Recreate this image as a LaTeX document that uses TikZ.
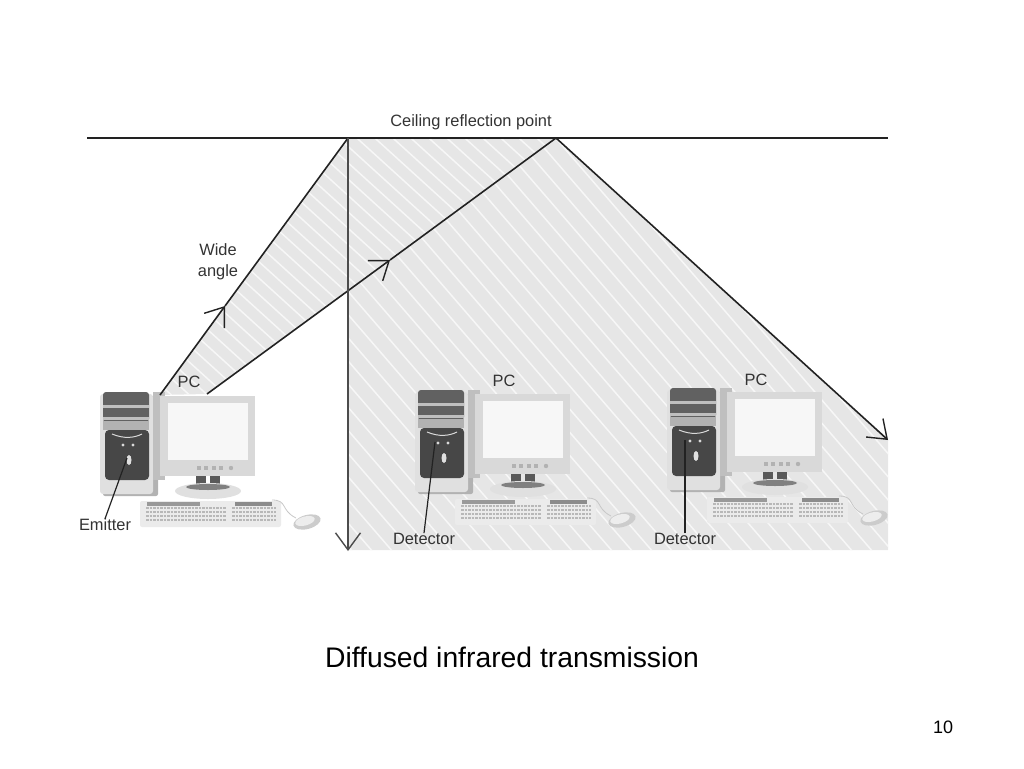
\documentclass[tikz,border=0pt]{standalone}
\usepackage{fontspec}
\setmainfont{Liberation Sans}
\usetikzlibrary{arrows.meta,positioning,calc}
\definecolor{hatchgray}{HTML}{E6E6E6}
\definecolor{hatchline}{HTML}{F7F7F7}
\definecolor{linkgray}{HTML}{222222}
\tikzset{
  ray/.style={line width=1.6pt,linkgray},
  barb/.style={-{Straight Barb[length=17pt,width=25pt,line width=1.4pt]}},
  hatchwhite/.style={hatchline,line width=1.5pt},
  lbl/.style={font=\fontsize{16.4}{19}\selectfont,text=black!80,inner sep=0pt},
  pointer/.style={line width=1.2pt,linkgray},
  pics/desktop/.style={code={
    % tower
    \fill[black!30,rounded corners=2pt] (3,4) rectangle (58,104);
    \fill[black!12,rounded corners=3pt] (0,2) rectangle (53,102);
    \fill[black!62,rounded corners=3pt] (3,0) rectangle (49,30);
    \fill[black!25] (3,13) rectangle (49,16);
    \fill[black!25] (3,25) rectangle (49,28);
    \fill[black!30] (3,29) rectangle (49,38);
    \fill[black!72,rounded corners=4pt] (5,38) rectangle (49,88);
    \draw[white!85!black,line width=1pt] (12,42) .. controls (24,47) and (34,46) .. (42,42);
    \fill[black!15] (23,53) circle (1.6) (33,53) circle (1.6);
    \fill[black!12] (29,68) ellipse (2.5 and 5);
    % monitor
    \fill[black!25] (53,0) rectangle (65,88);
    \fill[black!15] (60,4) rectangle (155,84);
    \fill[black!3] (68,11) rectangle (148,68);
    \foreach \k in {-4,2,8,14} \fill[black!30] ({102+\k*1.2},74) rectangle ++(4,4);
    \fill[black!30] (131,76) circle (2.2);
    % stand
    \fill[black!65] (96,84) rectangle (106,98);
    \fill[black!65] (110,84) rectangle (120,98);
    \fill[black!12] (108,99) ellipse (33 and 8);
    \fill[black!50] (108,95) ellipse (22 and 3);
    % keyboard
    \fill[black!8,rounded corners=2pt] (40,109) rectangle (181,135);
    \fill[black!40] (47,110) rectangle (100,114);
    \fill[black!45] (135,110) rectangle (172,114);
    \foreach \r in {116,120,124,128}{
      \draw[black!28,line width=1.3pt,dash pattern=on 2.5pt off 1pt] (46,\r) -- (126,\r);
      \draw[black!28,line width=1.3pt,dash pattern=on 2.5pt off 1pt] (132,\r) -- (176,\r);
    }
    % mouse
    \draw[black!22,line width=0.8pt] (172,108) .. controls (188,108) and (180,118) .. (196,126);
    \fill[black!20,rotate around={15:(207,130)}] (207,130) ellipse (14 and 7);
    \fill[black!7,rotate around={15:(205,129)}] (205,129) ellipse (10 and 4.5);
  }}
}
\begin{document}
\begin{tikzpicture}[x=1pt,y=-1pt,>=Latex]
  \useasboundingbox (0,0) rectangle (1024,768);
  % Ends of the rays
  \coordinate (ceilL) at (87,138);
  \coordinate (ceilR) at (888,138);
  \coordinate (reflA) at (348,138);
  \coordinate (reflB) at (556,138);
  \coordinate (emitA) at (160,395);
  \coordinate (emitB) at (207,394);
  \coordinate (headA) at (225,306);
  \coordinate (headB) at (390,260);
  \coordinate (floorPt) at (348,551);
  \coordinate (wallPt) at (888,440);
  % Hatched areas
  \begin{scope}
    \clip (reflA) -- (reflB) -- (emitB) -- (emitA) -- cycle;
    \fill[hatchgray] (100,130) rectangle (600,400);
    \foreach \i in {-300,-282,...,600}
      \draw[hatchwhite] (\i,130) -- ({\i+330},430);
  \end{scope}
  \begin{scope}
    \clip (348,291) -- (reflB) -- (wallPt) -- (888,550) -- (348,550) -- cycle;
    \fill[hatchgray] (340,130) rectangle (890,560);
    \foreach \i in {340,360,...,1360}
      \draw[hatchwhite] (\i,560) -- ({\i-380},120);
  \end{scope}
  % Ceiling
  \draw[ray] (ceilL) -- (ceilR);
  \node[lbl] (ceillabel) at (471,122) {Ceiling reflection point};
  % PCs
  \pic at (100,392) {desktop};
  \pic at (415,390) {desktop};
  \pic at (667,388) {desktop};
  \node[lbl] (pcA) at (189,382) {PC};
  \node[lbl] (pcB) at (504,381) {PC};
  \node[lbl] (pcC) at (756,380) {PC};
  % Rays
  \draw[ray,barb] (emitA) -- (headA);
  \draw[ray] (headA) -- (reflA);
  \draw[ray,barb] (emitB) -- (headB);
  \draw[ray] (headB) -- (reflB);
  \draw[ray,black!70,barb] (reflA) -- (floorPt);
  \draw[ray,barb] (reflB) -- (wallPt);
  \node[lbl,align=center] (widelabel) at (218,262) {Wide\\[2pt]angle};
  % Pointers
  \node[lbl] (emitter) at (105,525) {Emitter};
  \node[lbl] (detA) at (424,539) {Detector};
  \node[lbl] (detB) at (685,539) {Detector};
  \coordinate (emitterPt) at (127,458);
  \coordinate (detAPt) at (435,442);
  \coordinate (detBPt) at (685,440);
  \draw[pointer] (emitter.north) -- (emitterPt);
  \draw[pointer] (detA.north) -- (detAPt);
  \draw[pointer] (detB.north) -- (detBPt);
  % Caption
  \node[inner sep=0pt,font=\fontsize{28.3}{33}\selectfont] (caption) at (512,657) {Diffused infrared transmission};
  \node[inner sep=0pt,font=\fontsize{18}{22}\selectfont] (pagenum) at (943,727) {10};
\end{tikzpicture}
\end{document}
